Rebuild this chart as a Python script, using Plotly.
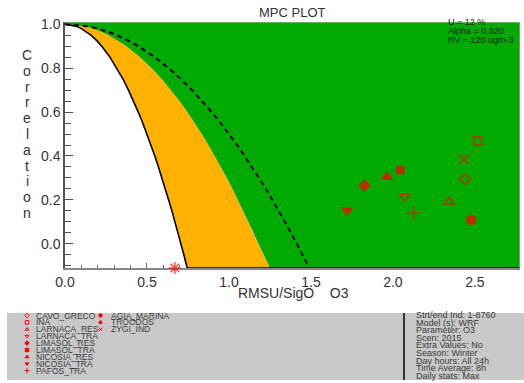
import plotly.graph_objects as go

# ---- figure size ----
W, H = 524, 383

# ---- criterion curves: correlation level -> RMSU/SigO position ----
r_levels = [1.0, 0.995, 0.99, 0.98, 0.97, 0.96, 0.95, 0.925, 0.9, 0.85, 0.8, 0.75,
            0.7, 0.65, 0.6, 0.55, 0.5, 0.45, 0.4, 0.35, 0.3, 0.25, 0.2, 0.15, 0.1,
            0.05, 0.0, -0.05, -0.11]
solid_x = [0.0, 0.050, 0.071, 0.100, 0.122, 0.141, 0.158, 0.194, 0.224, 0.274, 0.316,
           0.354, 0.387, 0.418, 0.447, 0.474, 0.500, 0.524, 0.548, 0.570, 0.592,
           0.612, 0.632, 0.652, 0.671, 0.689, 0.707, 0.725, 0.745]
orange_x = [0.0, 0.083, 0.118, 0.167, 0.204, 0.236, 0.264, 0.323, 0.373, 0.456, 0.527,
            0.589, 0.645, 0.697, 0.745, 0.791, 0.833, 0.874, 0.913, 0.950, 0.986,
            1.021, 1.054, 1.087, 1.118, 1.149, 1.179, 1.210, 1.250]
dashed_x = [0.0, 0.100, 0.141, 0.200, 0.245, 0.283, 0.316, 0.387, 0.447, 0.548, 0.632,
            0.707, 0.775, 0.837, 0.894, 0.949, 1.000, 1.049, 1.095, 1.140, 1.183,
            1.225, 1.265, 1.304, 1.342, 1.378, 1.414, 1.449, 1.490]

# ---- stations ----
stations_col1 = ["CAVO_GRECO", "INA", "LARNACA_RES", "LARNACA_TRA", "LIMASOL_RES",
                 "LIMASOL_TRA", "NICOSIA_RES", "NICOSIA_TRA", "PAFOS_TRA"]
stations_col2 = ["AGIA_MARINA", "TROODOS", "ZYGI_IND"]
stations = stations_col1 + stations_col2
rmsu_sigo = [2.441, 2.518, 2.343, 2.071, 1.827, 2.045, 1.963, 1.720, 2.126,
             2.478, 0.670, 2.433]
correlation = [0.294, 0.468, 0.192, 0.215, 0.265, 0.336, 0.306, 0.152, 0.139,
               0.109, -0.110, 0.385]
symbols = ["diamond-open", "square-open", "triangle-up-open", "triangle-down-open",
           "diamond", "square", "triangle-up", "triangle-down", "cross-thin-open",
           "circle", "asterisk-open", "x-thin-open"]
sizes = [8, 8, 9, 9, 8, 7, 9, 9, 10, 9, 10, 10]

info_lines = ["Strt/end Ind: 1-8760", "Model (s): WRF", "Parameter: O3", "Scen: 2015",
              "Extra Values: No", "Season: Winter", "Day hours: All 24h",
              "Time Average: 8h", "Daily stats: Max"]
param_lines = ["U = 12 %", "Alpha = 0.620", "RV = 120 ugm-3"]

X_MIN, X_MAX = 0.0, 2.775
Y_MIN, Y_MAX = -0.11, 1.01

GREEN = "#00AA00"
ORANGE = "#FFB000"
RED = "#FF0000"
TXT = "#333333"
FONT = "Liberation Sans, Arial, sans-serif"


def pxx(v):
    return v / W


def pxy(v):
    return 1 - v / H


fig = go.Figure()

# green zone: right of the orange boundary
fig.add_trace(go.Scatter(
    x=orange_x + [X_MAX + 0.2, X_MAX + 0.2, 0.0],
    y=r_levels + [Y_MIN, Y_MAX + 0.05, Y_MAX + 0.05],
    fill="toself", fillcolor=GREEN, line=dict(width=0), mode="lines",
    hoverinfo="skip", showlegend=False))

# orange zone: between solid curve and orange boundary
fig.add_trace(go.Scatter(
    x=solid_x + orange_x[::-1],
    y=r_levels + r_levels[::-1],
    fill="toself", fillcolor=ORANGE, line=dict(width=0), mode="lines",
    hoverinfo="skip", showlegend=False))

# dashed curve
fig.add_trace(go.Scatter(
    x=dashed_x, y=r_levels, mode="lines",
    line=dict(color="black", width=2, dash="5px,4px"),
    hoverinfo="skip", showlegend=False))

# solid curve, continuing along the lower edge
fig.add_trace(go.Scatter(
    x=solid_x + [X_MAX + 0.2], y=r_levels + [Y_MIN], mode="lines",
    line=dict(color="black", width=1.6),
    hoverinfo="skip", showlegend=False))

# station points
fig.add_trace(go.Scatter(
    x=rmsu_sigo, y=correlation, mode="markers", text=stations,
    marker=dict(symbol=symbols, size=sizes, color=RED,
                line=dict(color=RED, width=1.5)),
    cliponaxis=False, showlegend=False))

# legend markers on a full-page pixel axis
leg_x, leg_y = [], []
for i in range(len(stations_col1)):
    leg_x.append(27)
    leg_y.append(315.5 + 6.9 * i)
for i in range(len(stations_col2)):
    leg_x.append(100.5)
    leg_y.append(315.5 + 6.9 * i)
fig.add_trace(go.Scatter(
    x=leg_x, y=leg_y, mode="markers", xaxis="x2", yaxis="y2",
    marker=dict(symbol=symbols, size=3.5, color=RED, line=dict(color=RED, width=1)),
    hoverinfo="skip", showlegend=False, cliponaxis=False))

annotations = []
# legend station names
for i, name in enumerate(stations_col1):
    annotations.append(dict(x=pxx(34), y=pxy(315.5 + 6.9 * i), xref="paper", yref="paper",
                            text=name, showarrow=False, xanchor="left", yanchor="middle",
                            font=dict(family=FONT, size=8.5, color="#3a3a3a")))
for i, name in enumerate(stations_col2):
    annotations.append(dict(x=pxx(109), y=pxy(315.5 + 6.9 * i), xref="paper", yref="paper",
                            text=name, showarrow=False, xanchor="left", yanchor="middle",
                            font=dict(family=FONT, size=8.5, color="#3a3a3a")))
# run information
for i, line in enumerate(info_lines):
    annotations.append(dict(x=pxx(414), y=pxy(315 + 7.6 * i), xref="paper", yref="paper",
                            text=line, showarrow=False, xanchor="left", yanchor="middle",
                            font=dict(family=FONT, size=9, color="#3a3a3a")))
# parameters in the top-right corner
for i, line in enumerate(param_lines):
    annotations.append(dict(x=pxx(446), y=pxy(21.5 + 9.2 * i), xref="paper", yref="paper",
                            text=line, showarrow=False, xanchor="left", yanchor="middle",
                            font=dict(family=FONT, size=9, color="#1a1a1a")))
# title
annotations.append(dict(x=pxx(292), y=pxy(12), xref="paper", yref="paper",
                        text="MPC PLOT", showarrow=False, xanchor="center", yanchor="middle",
                        font=dict(family=FONT, size=13, color=TXT)))
# x-axis title
annotations.append(dict(x=pxx(293), y=pxy(293), xref="paper", yref="paper",
                        text="RMSU/SigO\u00a0\u00a0\u00a0\u00a0O3", showarrow=False,
                        xanchor="center", yanchor="middle",
                        font=dict(family=FONT, size=14, color=TXT)))
# y-axis title, one letter per line
for i, ch in enumerate("Correlation"):
    annotations.append(dict(x=pxx(27), y=pxy(55 + 15.8 * i), xref="paper", yref="paper",
                            text=ch, showarrow=False, xanchor="center", yanchor="middle",
                            font=dict(family=FONT, size=14, color=TXT)))

shapes = [
    # legend panel
    dict(type="rect", xref="paper", yref="paper", x0=pxx(7), x1=pxx(524),
         y0=pxy(380), y1=pxy(313), fillcolor="#C8C8C8", line=dict(width=0), layer="below"),
    dict(type="line", xref="paper", yref="paper", x0=pxx(404), x1=pxx(404),
         y0=pxy(380), y1=pxy(313), line=dict(color="#333333", width=2)),
    # frame edges
    dict(type="line", xref="x", yref="y", x0=X_MAX, x1=X_MAX, y0=Y_MIN, y1=Y_MAX,
         line=dict(color="#999999", width=1.5)),
    dict(type="line", xref="x", yref="y", x0=X_MIN, x1=X_MAX, y0=Y_MAX, y1=Y_MAX,
         line=dict(color="#BBBBBB", width=1)),
]

fig.update_layout(
    width=W, height=H, margin=dict(l=0, r=0, t=0, b=0, autoexpand=False),
    paper_bgcolor="white", plot_bgcolor="rgba(0,0,0,0)",
    showlegend=False, annotations=annotations, shapes=shapes,
    xaxis=dict(domain=[pxx(65), pxx(520)], range=[X_MIN, X_MAX], automargin=False,
               tickvals=[0.0, 0.5, 1.0, 1.5, 2.0, 2.5], tickformat=".1f",
               ticks="inside", ticklen=5, tickcolor="#666666", tickwidth=1,
               ticklabelstandoff=0,
               minor=dict(dtick=0.1, ticks="inside", ticklen=3, tickcolor="#666666"),
               showgrid=False, zeroline=False, showline=True, linecolor="#888888",
               linewidth=2, layer="below traces",
               tickfont=dict(family=FONT, size=14, color=TXT)),
    yaxis=dict(domain=[pxy(268), pxy(22)], range=[Y_MIN, Y_MAX], automargin=False,
               tickvals=[0.0, 0.2, 0.4, 0.6, 0.8, 1.0], tickformat=".1f",
               ticks="inside", ticklen=8, tickcolor="#555555", tickwidth=1,
               minor=dict(dtick=0.05, ticks="inside", ticklen=6, tickcolor="#555555"),
               showgrid=False, zeroline=False, showline=True, linecolor="#555555",
               linewidth=1.5, layer="below traces",
               tickfont=dict(family=FONT, size=14, color=TXT)),
    xaxis2=dict(domain=[0, 1], range=[0, W], visible=False, anchor="y2", automargin=False),
    yaxis2=dict(domain=[0, 1], range=[H, 0], visible=False, anchor="x2", automargin=False),
)

fig.write_html("out.html")
